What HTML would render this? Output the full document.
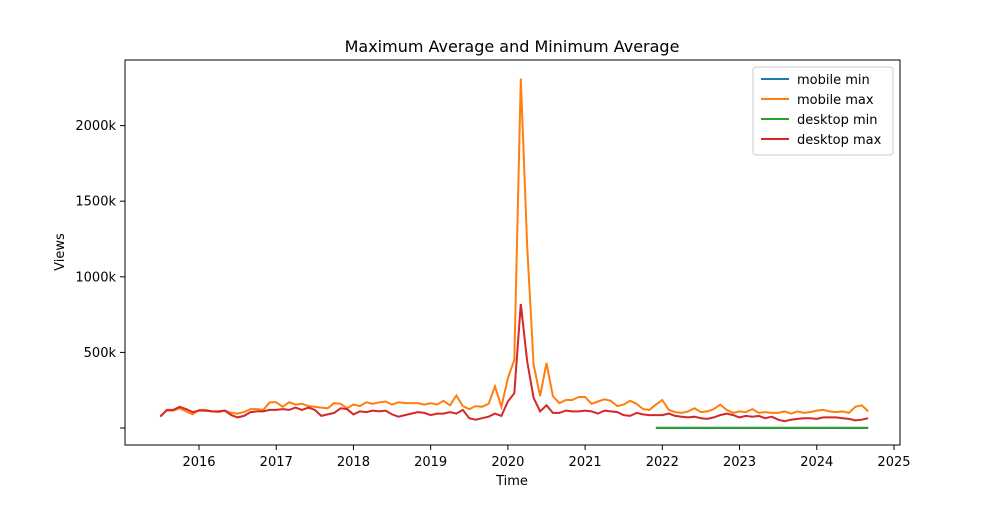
<!DOCTYPE html>
<html><head><meta charset="utf-8"><style>
body{margin:0;background:#fff;font-family:"Liberation Sans","DejaVu Sans",sans-serif}
svg text{font-family:"DejaVu Sans","Liberation Sans",sans-serif}
</style></head><body>
<svg id="chart" width="1000" height="500" viewBox="0 0 1000 500">
<rect width="1000" height="500" fill="#fff"/>
<text x="512" y="52" font-size="16" text-anchor="middle">Maximum Average and Minimum Average</text>
<g id="marks"></g>
<g id="axes"></g>
<rect x="125" y="60" width="775" height="385" fill="none" stroke="#000" stroke-width="1"/>
<text x="512" y="485" font-size="13" text-anchor="middle">Time</text>
<text transform="translate(64,252) rotate(-90)" font-size="13" text-anchor="middle">Views</text>
<g>
<rect x="753" y="67" width="140" height="88" rx="3" fill="#fff" stroke="#ccc"/>
<line x1="761" y1="79" x2="789" y2="79" stroke="#1f77b4" stroke-width="2"/><text x="797" y="84" font-size="13">mobile min</text>
<line x1="761" y1="99" x2="789" y2="99" stroke="#ff7f0e" stroke-width="2"/><text x="797" y="104" font-size="13">mobile max</text>
<line x1="761" y1="119" x2="789" y2="119" stroke="#2ca02c" stroke-width="2"/><text x="797" y="124" font-size="13">desktop min</text>
<line x1="761" y1="139" x2="789" y2="139" stroke="#d62728" stroke-width="2"/><text x="797" y="144" font-size="13">desktop max</text>
</g>
</svg>
<script>
const startYear = 2015, startMonth = 7;
const mobileMax = [80,115,115,130,110,90,
120,120,110,105,115,100,95,105,125,125,120,170,
170,140,170,155,160,145,140,135,130,165,160,130,
155,145,170,160,170,175,155,170,165,165,165,155,
165,155,180,150,215,145,125,145,140,160,275,140,
330,450,2310,1200,420,210,430,210,165,185,185,205,
205,160,175,190,180,145,155,180,160,125,120,155,
185,120,105,100,110,130,105,110,125,155,120,100,
110,105,125,100,105,100,100,110,95,110,100,105,
115,120,110,105,110,100,140,150,110];
const desktopMax = [75,120,120,140,125,105,
115,115,110,110,115,85,70,80,105,110,110,120,
120,125,120,135,120,135,120,80,90,100,130,125,
90,110,105,115,110,115,90,75,85,95,105,100,
85,95,95,105,95,120,65,55,65,75,95,80,
175,230,820,440,200,110,150,100,100,115,110,110,
115,110,95,115,110,105,85,80,100,90,85,85,
85,95,80,75,70,75,65,60,70,85,95,85,
70,80,75,80,65,75,55,45,55,60,65,65,
60,70,70,70,65,60,50,55,65];
const minStart = 2021 + 11/12;
const mobileMin = [0,0,0,0,0,0,0,0,0,0,0,0,0,0,0,0,0,0,0,0,0,0,0,0,0,0,0,0,0,0,0,0,0,0];
const desktopMin = [2,2,2,2,2,2,2,2,2,2,2,2,2,2,2,2,2,2,2,2,2,2,2,2,2,2,2,2,2,2,2,2,2,2];
const yTicks = [0,500,1000,1500,2000];
const yTickLabels = ["","500k","1000k","1500k","2000k"];
const xTicks = [2016,2017,2018,2019,2020,2021,2022,2023,2024,2025];

const NS="http://www.w3.org/2000/svg";
const xs = t => 199 + (t-2016)*77.22;
const ys = v => 428 - v*(75.6/500);
const marks=document.getElementById('marks'), axes=document.getElementById('axes');
function line(vals,t0,color,name){
  const p=document.createElementNS(NS,'polyline');
  p.setAttribute('points',vals.map((v,i)=>xs(t0+i/12).toFixed(1)+','+ys(v).toFixed(1)).join(' '));
  p.setAttribute('fill','none');p.setAttribute('stroke',color);p.setAttribute('stroke-width','2');
  
  
  marks.appendChild(p);
}
const t0 = startYear + (startMonth-1)/12;
line(mobileMin,minStart,'#1f77b4','mobile-min-line');
line(mobileMax,t0,'#ff7f0e','mobile-max-line');
line(desktopMin,minStart,'#2ca02c','desktop-min-line');
line(desktopMax,t0,'#d62728','desktop-max-line');
yTicks.forEach((v,i)=>{
  const y=ys(v);
  const l=document.createElementNS(NS,'line');
  l.setAttribute('x1',120);l.setAttribute('x2',125);l.setAttribute('y1',y);l.setAttribute('y2',y);l.setAttribute('stroke','#000');
  
  
  axes.appendChild(l);
  const t=document.createElementNS(NS,'text');
  t.setAttribute('x',116);t.setAttribute('y',y+4.5);t.setAttribute('font-size','13');t.setAttribute('text-anchor','end');
  t.textContent=yTickLabels[i];
  
  
  axes.appendChild(t);
});
xTicks.forEach(v=>{
  const x=xs(v);
  const l=document.createElementNS(NS,'line');
  l.setAttribute('x1',x);l.setAttribute('x2',x);l.setAttribute('y1',445);l.setAttribute('y2',450);l.setAttribute('stroke','#000');
  
  
  axes.appendChild(l);
  const t=document.createElementNS(NS,'text');
  t.setAttribute('x',x);t.setAttribute('y',466);t.setAttribute('font-size','13');t.setAttribute('text-anchor','middle');
  t.textContent=v;
  
  
  axes.appendChild(t);
});
</script>
</body></html>
